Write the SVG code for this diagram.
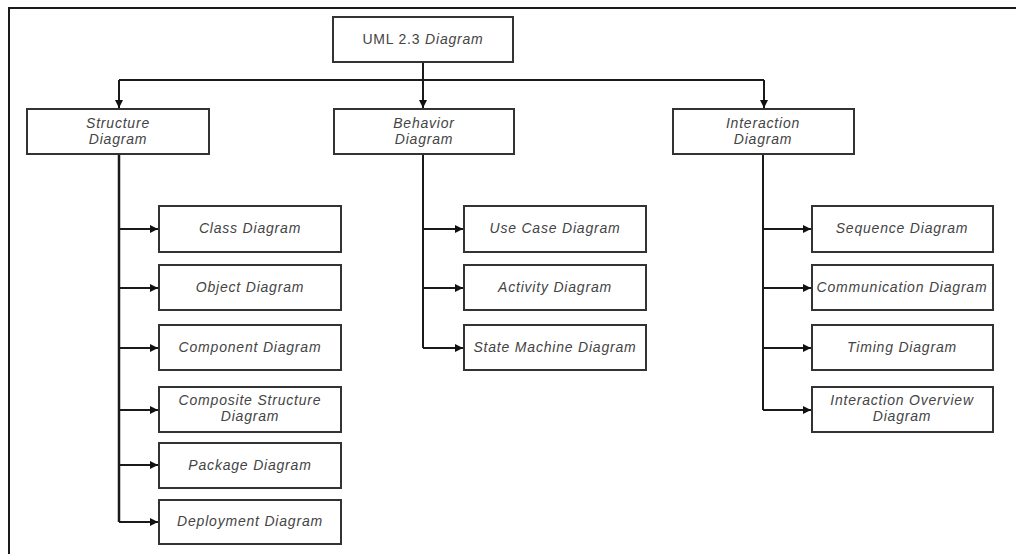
<svg xmlns="http://www.w3.org/2000/svg" width="1016" height="554" viewBox="0 0 1016 554">
  <defs>
    <marker id="arrow" viewBox="0 0 10 10" refX="10" refY="5" markerWidth="9" markerHeight="8" markerUnits="userSpaceOnUse" orient="auto">
      <path d="M0,0 L10,5 L0,10 Z" fill="#111"/>
    </marker>
  </defs>
  <style>
    .box { fill: #ffffff; stroke: #333333; stroke-width: 2; }
    .lbl { font-family: "Liberation Sans", Arial, sans-serif; font-size: 14px; font-style: italic; fill: #444444; text-anchor: middle; letter-spacing: 0.8px; }
    .up { font-style: normal; }
    .conn { fill: none; stroke: #1a1a1a; stroke-width: 2; }
    .frame { fill: none; stroke: #1a1a1a; stroke-width: 2; }
  </style>
  <rect width="1016" height="554" fill="#ffffff"/>

  <!-- outer frame: top and left edges -->
  <path class="frame" d="M9,554 L9,8 L1016,8"/>

  <!-- connectors -->
  <g id="connectors">
    <path class="conn" d="M423,62 L423,108" marker-end="url(#arrow)"/>
    <path class="conn" d="M119,80 L764,80"/>
    <path class="conn" d="M119,80 L119,108" marker-end="url(#arrow)"/>
    <path class="conn" d="M764,80 L764,108" marker-end="url(#arrow)"/>

    <!-- structure branch -->
    <path class="conn" d="M119,154 L119,522" style="stroke-width:2.5"/>
    <path class="conn" d="M119,229 L158,229" marker-end="url(#arrow)"/>
    <path class="conn" d="M119,288 L158,288" marker-end="url(#arrow)"/>
    <path class="conn" d="M119,348 L158,348" marker-end="url(#arrow)"/>
    <path class="conn" d="M119,410 L158,410" marker-end="url(#arrow)"/>
    <path class="conn" d="M119,465 L158,465" marker-end="url(#arrow)"/>
    <path class="conn" d="M119,522 L158,522" marker-end="url(#arrow)"/>

    <!-- behavior branch -->
    <path class="conn" d="M423,154 L423,348"/>
    <path class="conn" d="M423,229 L463,229" marker-end="url(#arrow)"/>
    <path class="conn" d="M423,288 L463,288" marker-end="url(#arrow)"/>
    <path class="conn" d="M423,348 L463,348" marker-end="url(#arrow)"/>

    <!-- interaction branch -->
    <path class="conn" d="M763,154 L763,410"/>
    <path class="conn" d="M763,229 L811,229" marker-end="url(#arrow)"/>
    <path class="conn" d="M763,288 L811,288" marker-end="url(#arrow)"/>
    <path class="conn" d="M763,348 L811,348" marker-end="url(#arrow)"/>
    <path class="conn" d="M763,410 L811,410" marker-end="url(#arrow)"/>
  </g>

  <!-- root -->
  <g id="uml-diagram">
    <rect class="box" x="333" y="17" width="180" height="45"/>
    <text class="lbl" x="423" y="44"><tspan class="up">UML 2.3 </tspan>Diagram</text>
  </g>

  <!-- second level -->
  <g id="structure-diagram">
    <rect class="box" x="27" y="109" width="182" height="45"/>
    <text class="lbl" x="118" y="128">Structure</text>
    <text class="lbl" x="118" y="144">Diagram</text>
  </g>
  <g id="behavior-diagram">
    <rect class="box" x="334" y="109" width="180" height="45"/>
    <text class="lbl" x="424" y="128">Behavior</text>
    <text class="lbl" x="424" y="144">Diagram</text>
  </g>
  <g id="interaction-diagram">
    <rect class="box" x="673" y="109" width="181" height="45"/>
    <text class="lbl" x="763" y="128">Interaction</text>
    <text class="lbl" x="763" y="144">Diagram</text>
  </g>

  <!-- structure diagrams -->
  <g id="class-diagram">
    <rect class="box" x="159" y="206" width="182" height="46"/>
    <text class="lbl" x="250" y="233">Class Diagram</text>
  </g>
  <g id="object-diagram">
    <rect class="box" x="159" y="265" width="182" height="45"/>
    <text class="lbl" x="250" y="292">Object Diagram</text>
  </g>
  <g id="component-diagram">
    <rect class="box" x="159" y="325" width="182" height="45"/>
    <text class="lbl" x="250" y="352">Component Diagram</text>
  </g>
  <g id="composite-structure-diagram">
    <rect class="box" x="159" y="387" width="182" height="45"/>
    <text class="lbl" x="250" y="405">Composite Structure</text>
    <text class="lbl" x="250" y="421">Diagram</text>
  </g>
  <g id="package-diagram">
    <rect class="box" x="159" y="443" width="182" height="45"/>
    <text class="lbl" x="250" y="470">Package Diagram</text>
  </g>
  <g id="deployment-diagram">
    <rect class="box" x="159" y="500" width="182" height="44"/>
    <text class="lbl" x="250" y="526">Deployment Diagram</text>
  </g>

  <!-- behavior diagrams -->
  <g id="use-case-diagram">
    <rect class="box" x="464" y="206" width="182" height="46"/>
    <text class="lbl" x="555" y="233">Use Case Diagram</text>
  </g>
  <g id="activity-diagram">
    <rect class="box" x="464" y="265" width="182" height="45"/>
    <text class="lbl" x="555" y="292">Activity Diagram</text>
  </g>
  <g id="state-machine-diagram">
    <rect class="box" x="464" y="325" width="182" height="45"/>
    <text class="lbl" x="555" y="352">State Machine Diagram</text>
  </g>

  <!-- interaction diagrams -->
  <g id="sequence-diagram">
    <rect class="box" x="812" y="206" width="181" height="46"/>
    <text class="lbl" x="902" y="233">Sequence Diagram</text>
  </g>
  <g id="communication-diagram">
    <rect class="box" x="812" y="265" width="181" height="45"/>
    <text class="lbl" x="902" y="292">Communication Diagram</text>
  </g>
  <g id="timing-diagram">
    <rect class="box" x="812" y="325" width="181" height="45"/>
    <text class="lbl" x="902" y="352">Timing Diagram</text>
  </g>
  <g id="interaction-overview-diagram">
    <rect class="box" x="812" y="387" width="181" height="45"/>
    <text class="lbl" x="902" y="405">Interaction Overview</text>
    <text class="lbl" x="902" y="421">Diagram</text>
  </g>
</svg>
